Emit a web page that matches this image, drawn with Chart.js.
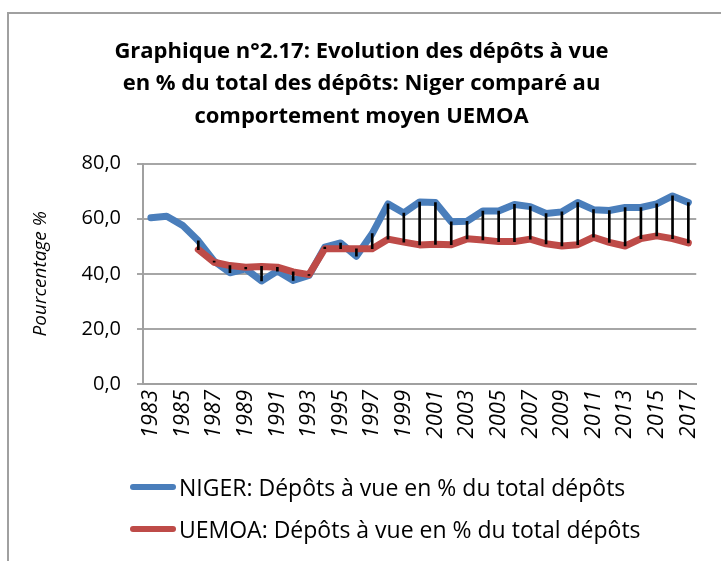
<!DOCTYPE html>
<html lang="fr">
<head>
<meta charset="utf-8">
<title>Graphique n°2.17</title>
<script src="https://cdn.jsdelivr.net/npm/chart.js@4.4.1/dist/chart.umd.min.js"></script>
<style>
    html, body { margin: 0; padding: 0; background: #fff; overflow: hidden; }
    #cadre {
        position: absolute; left: 7px; top: 12px; width: 800px; height: 700px;
        border-left: 2px solid #a0a0a0; border-top: 2px solid #a0a0a0;
        pointer-events: none;
    }
    #zone { position: absolute; left: 0; top: 0; width: 721px; height: 561px; }
    .legende {
        position: absolute; left: 130px; font: 23px 'Open Sans', sans-serif; color: #000;
        display: flex; align-items: center; white-space: nowrap;
    }
    .legende span.trait { display: inline-block; width: 46px; height: 6px; border-radius: 3px; margin-right: 3px; }
</style>
</head>
<body>
<div id="zone"><canvas id="graphique" width="721" height="561"></canvas></div>
<div id="cadre"></div>
<div class="legende" id="legNiger" style="top:471px"><span class="trait" style="background:#4a7ebb"></span>NIGER: Dépôts à vue en % du total dépôts</div>
<div class="legende" id="legUemoa" style="top:513px"><span class="trait" style="background:#be4b48"></span>UEMOA: Dépôts à vue en % du total dépôts</div>
<script>
'use strict';

// Annees 1983 - 2017
const ANNEES = [
    '1983', '1984', '1985', '1986', '1987', '1988', '1989', '1990', '1991', '1992',
    '1993', '1994', '1995', '1996', '1997', '1998', '1999', '2000', '2001', '2002',
    '2003', '2004', '2005', '2006', '2007', '2008', '2009', '2010', '2011', '2012',
    '2013', '2014', '2015', '2016', '2017'
];

// Depots a vue en % du total des depots
const NIGER = [
    60.4, 60.9, 57.6, 52.0, 44.6, 40.4, 41.8, 37.4, 41.0, 37.6,
    39.4, 49.7, 51.2, 46.4, 54.6, 65.4, 62.1, 66.1, 65.9, 58.9,
    59.1, 62.8, 62.8, 65.2, 64.4, 61.9, 62.5, 65.9, 63.3, 63.0,
    64.1, 64.1, 65.4, 68.3, 65.9
];

const UEMOA = [
    null, null, null, 48.8, 44.2, 43.0, 42.4, 42.7, 42.4, 40.7,
    39.7, 49.1, 49.1, 49.1, 49.1, 52.6, 51.5, 50.5, 50.7, 50.6,
    52.7, 52.3, 51.7, 51.7, 52.6, 50.9, 50.1, 50.6, 53.3, 51.4,
    50.1, 52.8, 53.8, 52.8, 51.2
];

const GRADUATIONS_Y = [0, 20, 40, 60, 80];

const TITRE = [
    'Graphique n°2.17: Evolution des dépôts à vue',
    'en % du total des dépôts: Niger comparé au',
    'comportement moyen UEMOA'
];

const POLICE = "'Open Sans', sans-serif";

// lignes haut-bas entre les deux series
const ECARTS = NIGER.map((v, i) => (UEMOA[i] == null ? null : [UEMOA[i], v]));

new Chart(document.getElementById('graphique'), {
    type: 'line',
    data: {
        labels: ANNEES,
        datasets: [
            {
                type: 'bar',
                label: 'ecart',
                data: ECARTS,
                backgroundColor: '#000',
                barThickness: 2,
                borderWidth: 0,
                order: 0
            },
            {
                label: 'UEMOA: Dépôts à vue en % du total dépôts',
                data: UEMOA,
                borderColor: '#be4b48',
                borderWidth: 7,
                borderJoinStyle: 'round',
                borderCapStyle: 'round',
                pointRadius: 0,
                tension: 0,
                order: 1
            },
            {
                label: 'NIGER: Dépôts à vue en % du total dépôts',
                data: NIGER,
                borderColor: '#4a7ebb',
                borderWidth: 7,
                borderJoinStyle: 'round',
                borderCapStyle: 'round',
                pointRadius: 0,
                tension: 0,
                order: 2
            }
        ]
    },
    options: {
        responsive: false,
        animation: false,
        layout: { padding: { top: 0, left: 20, right: 18, bottom: 107 } },
        plugins: {
            legend: { display: false },
            tooltip: { enabled: false },
            title: {
                display: true,
                text: TITRE,
                color: '#000',
                font: { family: POLICE, size: 22, weight: 'bold', lineHeight: 1.48 },
                padding: { top: 35, bottom: 31 }
            }
        },
        scales: {
            x: {
                offset: true,
                grid: { display: false, drawTicks: false },
                border: { display: true, color: '#a0a0a0', width: 2 },
                ticks: {
                    autoSkip: false,
                    minRotation: 90,
                    maxRotation: 90,
                    padding: 6,
                    color: '#000',
                    font: { family: POLICE, size: 22, style: 'italic' },
                    callback: function (val, i) { return i % 2 === 0 ? ANNEES[i] : ''; }
                },
                afterFit: function (echelle) { echelle.height = 70; }
            },
            y: {
                min: 0,
                max: 80,
                afterBuildTicks: function (echelle) {
                    echelle.ticks = GRADUATIONS_Y.map(v => ({ value: v }));
                },
                grid: { color: '#a6a6a6', lineWidth: 2, tickLength: 6 },
                border: { display: true, color: '#a0a0a0', width: 2 },
                ticks: {
                    padding: 16,
                    color: '#000',
                    font: { family: POLICE, size: 20 },
                    callback: function (v) { return v.toFixed(1).replace('.', ','); }
                },
                title: {
                    display: true,
                    text: 'Pourcentage %',
                    color: '#000',
                    font: { family: POLICE, size: 19, style: 'italic' },
                    padding: { top: 9, bottom: 0 }
                },
                afterFit: function (echelle) { echelle.width = 123; }
            }
        }
    }
});
</script>
</body>
</html>
